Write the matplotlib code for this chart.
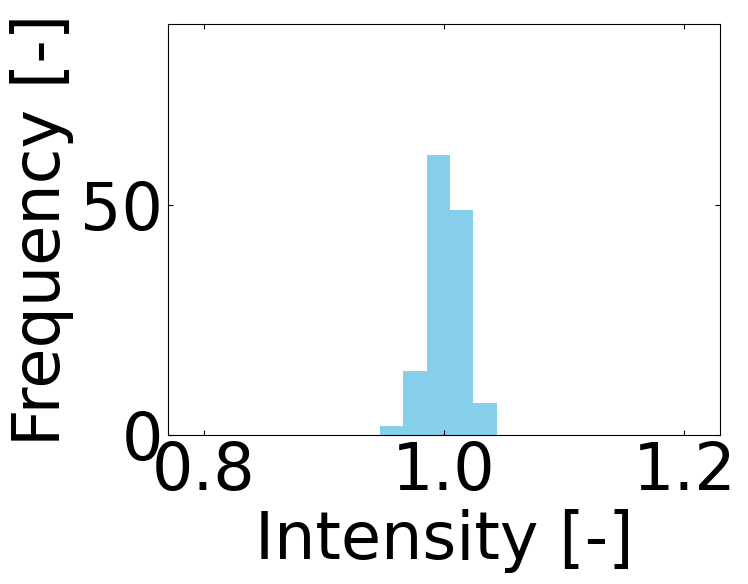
import numpy as np
import matplotlib
matplotlib.use("Agg")
import matplotlib.pyplot as plt

# histogram
bin_edges = [0.9468, 0.9661, 0.9855, 1.0050, 1.0244, 1.0438]
counts = [2, 14, 61, 49, 7]
x_ticks = [0.8, 1.0, 1.2]
y_ticks = [0, 50]

fig = plt.figure(figsize=(7.48, 5.84), dpi=100)
ax = fig.add_axes([0.2242, 0.2551, 0.963 - 0.2242, 0.9589 - 0.2551])

edges = np.array(bin_edges)
ax.bar(edges[:-1], counts, width=np.diff(edges), align="edge", color="skyblue")

ax.set_xlim(0.77, 1.23)
ax.set_ylim(0, 89.5)
ax.set_xticks(x_ticks)
ax.set_yticks(y_ticks)
ax.tick_params(direction="in", top=True, right=True, labelsize=47)
ax.set_xlabel("Intensity [-]", fontsize=47)
ax.set_ylabel("Frequency [-]", fontsize=47)

fig.savefig("out.png", dpi=100)
